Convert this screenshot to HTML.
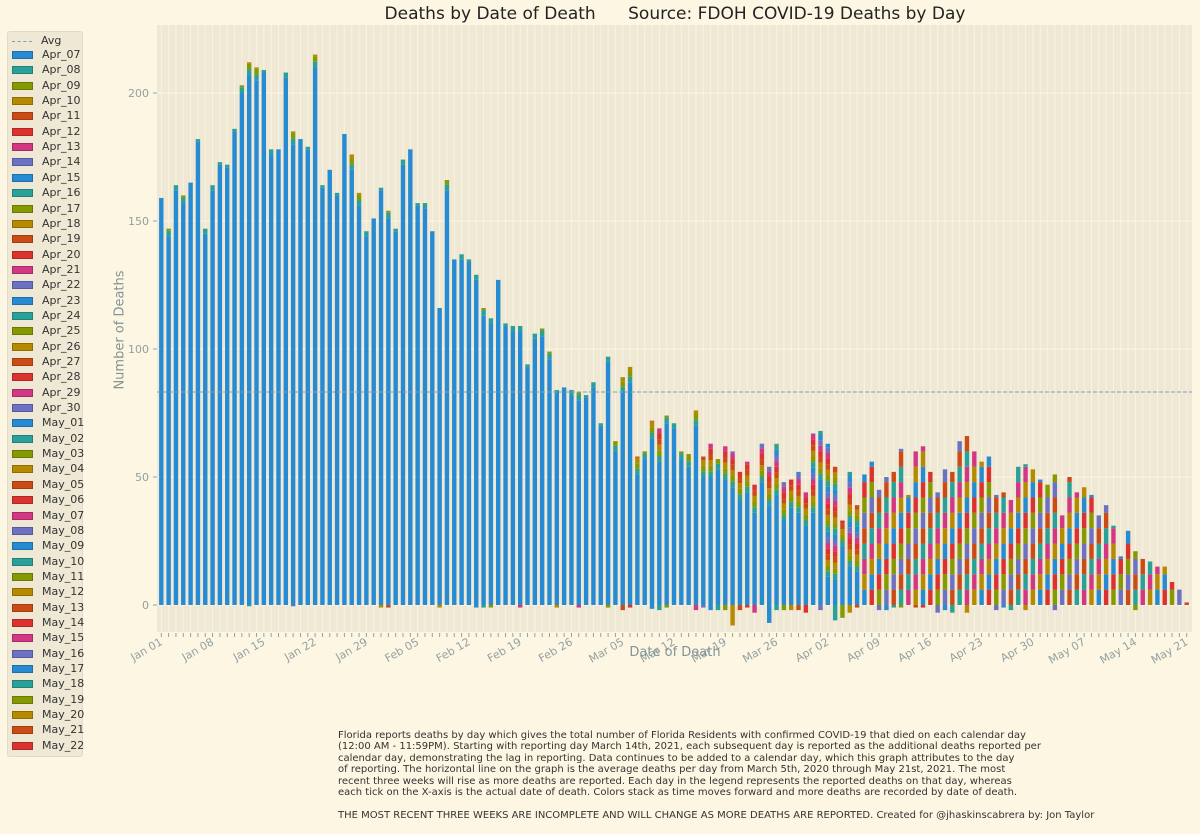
<!DOCTYPE html>
<html><head><meta charset="utf-8"><style>
html,body{margin:0;padding:0;background:#fdf6e3;}
body{width:1200px;height:830px;overflow:hidden;font-family:"DejaVu Sans","Liberation Sans",sans-serif;}
svg text{font-family:"DejaVu Sans","Liberation Sans",sans-serif;}
</style></head><body>
<svg id="chart" width="1200" height="830" viewBox="0 0 1200 830" xmlns="http://www.w3.org/2000/svg"></svg>
<script>
const totals = [159,147,164,160,165,182,147,164,173,172,186,203,212,210,209,178,178,208,185,182,179,215,164,170,161,184,176,161,146,151,163,
154,147,174,178,157,157,146,116,166,135,137,135,129,116,112,127,110,109,109,94,106,108,99,84,85,84,83,82,
87,71,97,64,89,93,58,60,72,69,74,71,60,59,76,58,63,57,62,60,52,56,47,63,54,63,48,49,52,44,67,
68,63,54,33,52,39,51,56,45,50,52,61,43,60,62,52,44,53,52,64,66,60,56,58,43,44,41,54,55,53,
49,47,51,35,50,44,46,43,35,39,31,19,29,21,18,17,15,15,9,6,1];
const baseApr07 = [159,144,162,157,165,181,145,162,172,171,185,200,207,205,208,176,178,206,180,182,178,210,163,170,160,184,170,156,144,151,162,
151,146,172,178,156,155,146,116,162,135,135,134,127,113,110,127,109,107,107,93,104,105,96,83,85,82,80,81,
85,70,95,60,83,87,51,57,65,56,71,69,57,54,70,50,50,53,49,46,41,44,36,48,39,43,33,38,36,31,36,
49,11,10,23,15,13,0,0,0,0,0,0,0,0,0,0,0,0,0,0,0,0,0,0,0,0,0,0,0,0,
0,0,0,0,0,0,0,0,0,0,0,0,0,0,0,0,0,0,0,0,0];
const negDays = [12,18,30,31,38,43,44,45,49,54,57,61,63,64,67,68,69,73,74,75,76,77,78,79,80,81,83,84,85,86,87,88,90,92,93,94,95,98,99,100,101,103,104,106,107,108,110,114,115,116,118,122,133];
const negVals = [0.5,0.5,1,1,1,1,1,1,1,1,1,1,2,1,1.5,2,1,2,1,2,2,2,8,2,1,3,7,2,2,2,2,3,2,6,5,3,1,2,2,1,1,1,1,3,2,3,3,2,1,2,2,2,2];
const avgValue = 83.2;
const yTicks = [0,50,100,150,200];
const months = ["Jan","Feb","Mar","Apr","May"];
const monthLens = [31,28,31,30,31];
const legendLabels = ["Apr_07","Apr_08","Apr_09","Apr_10","Apr_11","Apr_12","Apr_13","Apr_14","Apr_15","Apr_16","Apr_17","Apr_18","Apr_19","Apr_20","Apr_21","Apr_22","Apr_23","Apr_24","Apr_25","Apr_26","Apr_27","Apr_28","Apr_29","Apr_30","May_01","May_02","May_03","May_04","May_05","May_06","May_07","May_08","May_09","May_10","May_11","May_12","May_13","May_14","May_15","May_16","May_17","May_18","May_19","May_20","May_21","May_22"];

const palette = ["#268bd2","#2aa198","#859900","#b58900","#cb4b16","#dc322f","#d33682","#6c71c4"];
const NS="http://www.w3.org/2000/svg";
const svg=document.getElementById('chart');
const PL=157,PR=1192,PT=25,PB=632;
const x0=161.3,x1=1186.7;
function xScale(i){return x0+i*(x1-x0)/(totals.length-1);}
function yScale(v){return 605-v*2.56;}
function mk(tag,attrs,parent){const e=document.createElementNS(NS,tag);for(const k in attrs)e.setAttribute(k,attrs[k]);(parent||svg).appendChild(e);return e;}
function dateLabel(i){let m=0,d=i;while(d>=monthLens[m]){d-=monthLens[m];m++;}return months[m]+" "+String(d+1).padStart(2,"0");}

const bg=mk('rect',{x:PL,y:PT,width:PR-PL,height:PB-PT,fill:'#eee8d5'});


const grid=mk('g',{});


for(let i=0;i<totals.length;i++){
  mk('line',{x1:xScale(i),x2:xScale(i),y1:PT,y2:PB,stroke:'#fdf6e3','stroke-width':1,opacity:0.8},grid);
}
yTicks.forEach(t=>{mk('line',{x1:PL,x2:PR,y1:yScale(t),y2:yScale(t),stroke:'#fdf6e3','stroke-width':1},grid);});

const bw=4.4;
const bars=mk('g',{});


for(let i=0;i<totals.length;i++){
  const g=mk('g',{},bars);
  
  
  const x=xScale(i)-bw/2;
  const b=Math.min(baseApr07[i],totals[i]);
  if(b>0) mk('rect',{x:x,y:yScale(b),width:bw,height:b*2.56,fill:palette[0]},g);
  let cur=b,k=0;
  const seg=b>0?2.2:6;
  while(cur<totals[i]-0.01){
    const h=Math.min(seg,totals[i]-cur);
    const c=palette[(b>0?1+k:(i*5+k*3))%8];
    mk('rect',{x:x,y:yScale(cur+h),width:bw,height:h*2.56,fill:c},g);
    cur+=h;k++;
  }
}
negDays.forEach((d,j)=>{
  const r=mk('rect',{x:xScale(d)-bw/2,y:yScale(0),width:bw,height:negVals[j]*2.56,fill:palette[(d+5)%8]},bars);
  
  
});

const avg=mk('line',{x1:PL,x2:PR,y1:yScale(avgValue),y2:yScale(avgValue),stroke:'#7f9fb8','stroke-width':1,'stroke-dasharray':'4,2'});



const ya=mk('g',{});


yTicks.forEach(t=>{
  mk('line',{x1:PL-4,x2:PL,y1:yScale(t),y2:yScale(t),stroke:'#93a1a1'},ya);
  const tx=mk('text',{x:PL-8,y:yScale(t)+4,'text-anchor':'end','font-size':11,fill:'#93a1a1'},ya);
  tx.textContent=t;
});
const xa=mk('g',{});


for(let i=0;i<totals.length;i++){mk('line',{x1:xScale(i),x2:xScale(i),y1:PB+1,y2:PB+5,stroke:'#93a1a1','stroke-width':1},xa);}
for(let i=0;i<totals.length;i+=7){
  const xx=xScale(i)+2,yy=PB+12;
  const tx=mk('text',{x:xx,y:yy,'text-anchor':'end','font-size':11,fill:'#93a1a1',transform:'rotate(-30 '+xx+' '+yy+')'},xa);
  tx.textContent=dateLabel(i);
}
</script>
<div style="position:absolute;left:0;top:4px;width:1350px;text-align:center;font-size:17px;color:#222;white-space:pre;">Deaths by Date of Death      Source: FDOH COVID-19 Deaths by Day</div>
<div style="position:absolute;left:120px;top:330px;transform:translate(-50%,-50%) rotate(-90deg);font-size:13px;color:#839496;white-space:nowrap;">Number of Deaths</div>
<div style="position:absolute;left:675px;top:645px;transform:translateX(-50%);font-size:13px;color:#839496;white-space:nowrap;">Date of Death</div>
<div id="legend" style="position:absolute;left:7px;top:31px;width:76px;height:726px;background:#eee8d5;border:1px solid #e0dac8;border-radius:3px;box-sizing:border-box;"></div>
<div style="position:absolute;left:338px;top:730px;font-size:10px;line-height:11.4px;color:#333;white-space:pre;">Florida reports deaths by day which gives the total number of Florida Residents with confirmed COVID-19 that died on each calendar day
(12:00 AM - 11:59PM). Starting with reporting day March 14th, 2021, each subsequent day is reported as the additional deaths reported per
calendar day, demonstrating the lag in reporting. Data continues to be added to a calendar day, which this graph attributes to the day
of reporting. The horizontal line on the graph is the average deaths per day from March 5th, 2020 through May 21st, 2021. The most
recent three weeks will rise as more deaths are reported. Each day in the legend represents the reported deaths on that day, whereas
each tick on the X-axis is the actual date of death. Colors stack as time moves forward and more deaths are recorded by date of death.

THE MOST RECENT THREE WEEKS ARE INCOMPLETE AND WILL CHANGE AS MORE DEATHS ARE REPORTED. Created for @jhaskinscabrera by: Jon Taylor</div>
<script>
const leg=document.getElementById('legend');
const avgRow=document.createElement('div');


avgRow.style.cssText='position:absolute;left:4px;top:2px;height:14px;font-size:11px;color:#333;white-space:nowrap;';
avgRow.innerHTML='<span style="display:inline-block;width:20px;border-top:1px dashed #7f9fb8;vertical-align:middle;margin-right:9px;"></span>Avg';
leg.appendChild(avgRow);
legendLabels.forEach((l,j)=>{
  const r=document.createElement('div');
  
  
  r.style.cssText='position:absolute;left:4px;top:'+(16+j*15.35)+'px;height:14px;font-size:11px;color:#333;white-space:nowrap;line-height:14px;';
  r.innerHTML='<span style="display:inline-block;width:19px;height:6px;background:'+palette[j%8]+';border:0.5px solid rgba(0,0,0,0.2);vertical-align:middle;margin-right:9px;"></span>'+l;
  leg.appendChild(r);
});
</script>
</body></html>
